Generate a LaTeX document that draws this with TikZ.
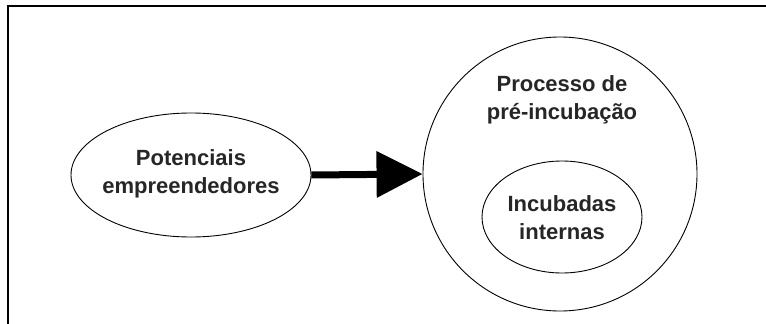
\documentclass[tikz,border=0pt]{standalone}
\usepackage{fontspec}
\setmainfont{Liberation Sans}
\usetikzlibrary{arrows.meta,shapes.geometric}
\begin{document}
\begin{tikzpicture}[x=1pt,y=-1pt,
  lbl/.style={font=\fontsize{22}{28}\selectfont\bfseries, text=black!85, align=center},
  oval/.style={ellipse, draw=black, line width=0.9pt, inner sep=0pt},
  bigarrow/.style={line width=7pt, -{Triangle[length=46pt,width=45pt]}, shorten >=0pt}
]
  \useasboundingbox (0,0) rectangle (766,324);
  \fill[white] (0,0) rectangle (766,324);
  % frame lines along the top and left edge
  \draw[line width=2pt] (7.5,324) -- (7.5,5.5) -- (766,5.5);

  % left ellipse
  \node[oval, minimum width=240pt, minimum height=124pt] (pot) at (191,175) {};
  \node[lbl] (potT) at (191,174) {Potenciais\\empreendedores};

  % outer circle
  \node[oval, minimum width=274pt, minimum height=274pt] (proc) at (560,174) {};
  \node[lbl] (procT) at (562,100) {Processo de\\pré-incubação};

  % inner ellipse
  \node[oval, minimum width=160pt, minimum height=112pt] (inc) at (562,217) {};
  \node[lbl] (incT) at (562,218) {Incubadas\\internas};

  % connector
  \draw[bigarrow] (pot.east) -- (proc.west);
\end{tikzpicture}
\end{document}
